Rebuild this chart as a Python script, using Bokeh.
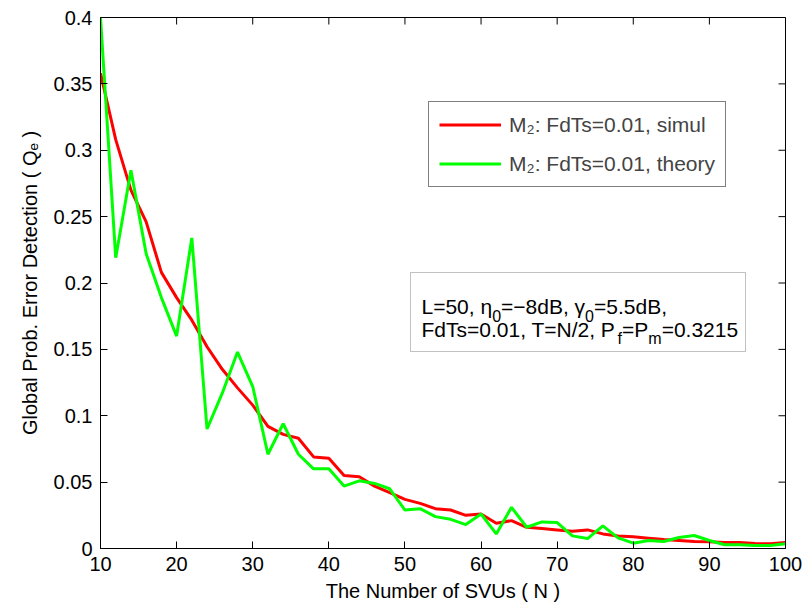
from bokeh.plotting import figure
from bokeh.models import (Range1d, FixedTicker, Legend, LegendItem,
                          BoxAnnotation, Label)
from bokeh.embed import file_html
from bokeh.resources import INLINE

FONT = "Liberation Sans"

# ---------------- data ----------------
N = [10, 12, 14, 16, 18, 20, 22, 24, 26, 28, 30, 32, 34, 36, 38, 40, 42, 44, 46, 48,
     50, 52, 54, 56, 58, 60, 62, 64, 66, 68, 70, 72, 74, 76, 78, 80, 82, 84, 86, 88,
     90, 92, 94, 96, 98, 100]

simul = [0.358, 0.308, 0.270, 0.246, 0.208, 0.189, 0.172, 0.152, 0.135, 0.121,
         0.108, 0.092, 0.086, 0.083, 0.069, 0.068, 0.055, 0.054, 0.047, 0.042,
         0.037, 0.034, 0.030, 0.029, 0.025, 0.026, 0.019, 0.021, 0.016, 0.015,
         0.014, 0.013, 0.014, 0.011, 0.0095, 0.0088, 0.0078, 0.0068, 0.0060, 0.0052,
         0.0050, 0.0045, 0.0045, 0.0038, 0.0035, 0.0045]

theory = [0.400, 0.219, 0.285, 0.222, 0.189, 0.160, 0.234, 0.090, 0.117, 0.148,
          0.122, 0.071, 0.094, 0.071, 0.060, 0.060, 0.047, 0.051, 0.049, 0.045,
          0.029, 0.030, 0.024, 0.022, 0.018, 0.026, 0.011, 0.031, 0.016, 0.020,
          0.0195, 0.0095, 0.0075, 0.017, 0.008, 0.004, 0.006, 0.0053, 0.0083, 0.0098,
          0.006, 0.0028, 0.0028, 0.0023, 0.0023, 0.0035]

x_ticks = [10, 20, 30, 40, 50, 60, 70, 80, 90, 100]
x_tick_labels = ["10", "20", "30", "40", "50", "60", "70", "80", "90", "100"]
y_ticks = [0, 0.05, 0.1, 0.15, 0.2, 0.25, 0.3, 0.35, 0.4]
y_tick_labels = ["0", "0.05", "0.1", "0.15", "0.2", "0.25", "0.3", "0.35", "0.4"]

series_labels = ["M\u2082: FdTs=0.01, simul", "M\u2082: FdTs=0.01, theory"]
series_colors = ["#ff0000", "#00ff00"]

x_label = "The Number of SVUs ( N )"
y_label = "Global Prob. Error Detection ( Q\u2091 )"

# info box lines: runs of (text, is_subscript)
info_lines = [
    [("L=50, \u03b7", False), ("0", True), ("=\u22128dB, \u03b3", False), ("0", True), ("=5.5dB,", False)],
    [("FdTs=0.01, T=N/2, P", False), ("f", True), ("=P", False), ("m", True), ("=0.3215", False)],
]

# ---------------- layout constants (canvas px) ----------------
W, H = 805, 606
FL, FR, FT, FB = 100, 785, 17, 548
XMIN, XMAX, YMIN, YMAX = 10, 100, 0, 0.4
TICK = 7


def dx(px):
    return XMIN + (px - FL) / (FR - FL) * (XMAX - XMIN)


def dy(py):
    return YMIN + (FB - py) / (FB - FT) * (YMAX - YMIN)


# Arial / Liberation Sans advance widths (per 1000 em)
ADV = {' ': 278, ',': 278, '.': 278, ':': 278, '/': 278, '(': 333, ')': 333,
       '=': 584, '\u2212': 584, '-': 333,
       '0': 556, '1': 556, '2': 556, '3': 556, '4': 556, '5': 556, '6': 556,
       '7': 556, '8': 556, '9': 556,
       'B': 667, 'F': 611, 'L': 556, 'M': 833, 'N': 722, 'P': 667, 'T': 611,
       'd': 556, 'f': 278, 'm': 833, 's': 500,
       '\u03b7': 556, '\u03b3': 500}


def text_width(s, size):
    return sum(ADV.get(c, 556) for c in s) * size / 1000.0


p = figure(width=W, height=H, x_range=Range1d(XMIN, XMAX), y_range=Range1d(YMIN, YMAX),
           output_backend="svg", toolbar_location=None,
           min_border_left=FL, min_border_right=W - FR, min_border_top=FT,
           min_border_bottom=H - FB)
p.xgrid.visible = False
p.ygrid.visible = False
p.outline_line_color = "black"
p.outline_line_width = 1
p.background_fill_color = "white"
p.border_fill_color = "white"

renderers = []
for ys, col in zip([simul, theory], series_colors):
    r = p.line(N, ys, line_color=col, line_width=3)
    renderers.append(r)


def style_axis(ax, ticks):
    ax.ticker = FixedTicker(ticks=ticks)
    ax.major_tick_in = TICK
    ax.major_tick_out = 0
    ax.minor_tick_line_color = None
    ax.axis_line_color = "black"
    ax.major_tick_line_color = "black"
    ax.major_label_text_font = FONT
    ax.major_label_text_font_size = "20px"
    ax.major_label_text_color = "black"
    ax.axis_label_text_font = FONT
    ax.axis_label_text_font_size = "20px"
    ax.axis_label_text_font_style = "normal"
    ax.axis_label_text_color = "black"


style_axis(p.xaxis[0], x_ticks)
p.xaxis[0].major_label_overrides = {t: l for t, l in zip(x_ticks, x_tick_labels)}
p.xaxis[0].axis_label = x_label
p.xaxis[0].major_label_standoff = 8
p.xaxis[0].axis_label_standoff = 6

style_axis(p.yaxis[0], y_ticks)
p.yaxis[0].major_label_overrides = {t: l for t, l in zip(y_ticks, y_tick_labels)}
p.yaxis[0].axis_label = y_label
p.yaxis[0].major_label_standoff = 8
p.yaxis[0].axis_label_standoff = 10

# inward ticks on the top and right edges of the box (MATLAB style)
ty = TICK * (YMAX - YMIN) / (FB - FT)
tx = TICK * (XMAX - XMIN) / (FR - FL)
p.segment(x0=x_ticks, y0=[YMAX] * len(x_ticks), x1=x_ticks, y1=[YMAX - ty] * len(x_ticks),
          line_color="black", line_width=1)
p.segment(x0=[XMAX] * len(y_ticks), y0=y_ticks, x1=[XMAX - tx] * len(y_ticks), y1=y_ticks,
          line_color="black", line_width=1)

# legend
legend = Legend(
    items=[LegendItem(label=lab, renderers=[r]) for lab, r in zip(series_labels, renderers)],
    location=(428 - FL, FB - 187),
    label_text_font=FONT, label_text_font_size="21px",
    glyph_width=62, glyph_height=25, label_height=25,
    spacing=14, padding=10, label_standoff=8, margin=0,
    border_line_color="black", border_line_width=1,
    background_fill_color="white", background_fill_alpha=1.0,
)
p.add_layout(legend)

# info box
box = BoxAnnotation(left=dx(410), right=dx(745), top=dy(272), bottom=dy(351),
                    fill_color="white", fill_alpha=1.0,
                    line_color="#333333", line_width=1, level="annotation")
p.add_layout(box)

MAIN, SUB = 21, 16
SUB_DROP = 9
x0 = 421
baselines = [306, 329]
for runs, base in zip(info_lines, baselines):
    cx = x0
    for txt, is_sub in runs:
        size = SUB if is_sub else MAIN
        yb = base + (SUB_DROP if is_sub else 0)
        p.add_layout(Label(x=dx(cx), y=dy(yb), text=txt, text_font=FONT,
                           text_font_size=f"{size}px", text_color="black",
                           text_baseline="alphabetic", text_align="left"))
        cx += text_width(txt, size)

open("out.html", "w").write(file_html(p, INLINE))
